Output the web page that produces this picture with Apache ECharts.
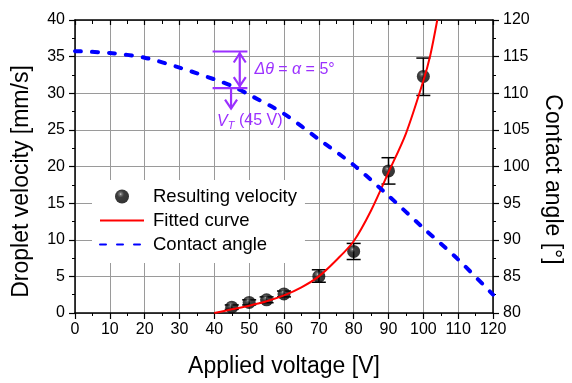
<!DOCTYPE html>
<html><head><meta charset="utf-8">
<script src="https://cdn.jsdelivr.net/npm/echarts@6/dist/echarts.min.js"></script>
<style>html,body{margin:0;padding:0;background:#fff}#c{width:572px;height:383px}</style>
</head><body><div id="c"></div>
<script>
// ---- data ----
const voltages   = [45, 50, 55, 60, 70, 80, 90, 100];
const velocity   = [0.8, 1.45, 1.8, 2.6, 5.0, 8.4, 19.4, 32.3];
const velLow     = [0.5, 1.1, 1.4, 2.2, 4.2, 7.3, 17.6, 29.7];
const velHigh    = [1.1, 1.8, 2.2, 3.0, 5.9, 9.5, 21.2, 34.8];
const fitVoltage  = [40, 45, 50, 55, 60, 65, 70, 75, 80, 85, 90, 95, 100, 102, 104];
const fitVelocity = [0, 0.5, 1.0, 1.6, 2.4, 3.5, 5.0, 7.2, 9.8, 14.0, 19.2, 24.5, 31.7, 35.2, 40];
const angleVoltage = [0, 10, 20, 30, 40, 45, 50, 60, 70, 80, 90, 100, 110, 120];
const contactAngle = [115.75, 115.5, 114.85, 113.5, 111.9, 111.0, 109.8, 107.2, 103.7, 100.2, 96.0, 91.6, 87.3, 82.5];
// annotation anchors (data units: voltage, contact angle)
const annBarX = [39.5, 49.5];
const annUpper = 115.7, annLower = 110.7;
const annArrowX = 47.3;
const vtX = 44.8, vtArrowEnd = 107.9;

const FONT = 'Arial, "Liberation Sans", sans-serif';
const PURPLE = '#9B30FF';
const GRIDC = '#9a9a9a';

const chart = echarts.init(document.getElementById('c'), null, {renderer: 'canvas'});

const sphere = {
  type: 'radial', x: 0.4, y: 0.33, r: 0.68,
  colorStops: [
    {offset: 0, color: '#d0d0d0'},
    {offset: 0.12, color: '#555'},
    {offset: 0.36, color: '#0c0c0c'},
    {offset: 1, color: '#000'}
  ]
};

const option = {
  animation: false,
  backgroundColor: '#fff',
  textStyle: {fontFamily: FONT},
  grid: {left: 75, right: 76, top: 20, bottom: 65},
  legend: {
    orient: 'vertical', left: 92, top: 180,
    backgroundColor: '#fff',
    padding: [7, 8, 9, 7],
    itemWidth: 44, itemHeight: 14, itemGap: 5,
    textStyle: {fontSize: 18.5, color: '#000', fontFamily: FONT, lineHeight: 18, padding: [0, 0, 0, 4]},
    data: [
      {name: 'Resulting velocity'},
      {name: 'Fitted curve', itemStyle: {opacity: 0}},
      {name: 'Contact angle', itemStyle: {opacity: 0}}
    ]
  },
  xAxis: [{
    type: 'value', min: 0, max: 120, interval: 10, position: 'bottom',
    name: 'Applied voltage [V]', nameLocation: 'middle', nameGap: 42,
    nameTextStyle: {fontSize: 23, color: '#000', fontFamily: FONT},
    axisLine: {show: true, onZero: false, lineStyle: {color: '#000', width: 1.5}},
    axisTick: {show: true, inside: false, length: 6, lineStyle: {color: '#000', width: 1.2}},
    minorTick: {show: true, splitNumber: 2, length: 3, lineStyle: {color: '#000', width: 1}},
    axisLabel: {fontSize: 16, color: '#000', margin: 9, fontFamily: FONT},
    splitLine: {show: true, lineStyle: {color: GRIDC, width: 1}}
  }, {
    type: 'value', min: 0, max: 120, interval: 10, position: 'top',
    axisLine: {show: true, onZero: false, lineStyle: {color: '#000', width: 1.5}},
    axisTick: {show: true, inside: true, length: 5, lineStyle: {color: '#000', width: 1.2}},
    minorTick: {show: true, splitNumber: 2, length: 4, lineStyle: {color: '#000', width: 1}},
    axisLabel: {show: false},
    splitLine: {show: false}
  }],
  yAxis: [{
    type: 'value', min: 0, max: 40, interval: 5, position: 'left',
    name: 'Droplet velocity [mm/s]', nameLocation: 'middle', nameGap: 42,
    nameTextStyle: {fontSize: 23, color: '#000', fontFamily: FONT, padding: [0, 30, 0, 0]},
    axisLine: {show: true, onZero: false, lineStyle: {color: '#000', width: 1.5}},
    axisTick: {show: true, inside: false, length: 6, lineStyle: {color: '#000', width: 1.2}},
    minorTick: {show: true, splitNumber: 2, length: 3, lineStyle: {color: '#000', width: 1}},
    axisLabel: {fontSize: 16, color: '#000', margin: 10, fontFamily: FONT},
    splitLine: {show: true, lineStyle: {color: GRIDC, width: 1}}
  }, {
    type: 'value', min: 80, max: 120, interval: 5, position: 'right',
    name: 'Contact angle [°]', nameLocation: 'middle', nameGap: 48, nameRotate: -90,
    nameTextStyle: {fontSize: 23, color: '#000', fontFamily: FONT, padding: [0, 0, 0, 26]},
    axisLine: {show: true, onZero: false, lineStyle: {color: '#000', width: 1.5}},
    axisTick: {show: true, inside: false, length: 6, lineStyle: {color: '#000', width: 1.2}},
    minorTick: {show: true, splitNumber: 2, length: 3, lineStyle: {color: '#000', width: 1}},
    axisLabel: {fontSize: 16, color: '#000', margin: 10, fontFamily: FONT},
    splitLine: {show: false}
  }],
  series: [{
    type: 'custom', name: 'err', xAxisIndex: 0, yAxisIndex: 0, z: 3,
    data: voltages.map((v, i) => [v, velLow[i], velHigh[i]]),
    encode: {x: 0, y: [1, 2]},
    renderItem: function (params, api) {
      const x = api.value(0);
      const lo = api.coord([x, api.value(1)]);
      const hi = api.coord([x, api.value(2)]);
      const hw = 7;
      const st = {stroke: '#000', lineWidth: 1.5};
      return {type: 'group', children: [
        {type: 'line', shape: {x1: lo[0], y1: lo[1], x2: hi[0], y2: hi[1]}, style: st},
        {type: 'line', shape: {x1: lo[0] - hw, y1: lo[1], x2: lo[0] + hw, y2: lo[1]}, style: st},
        {type: 'line', shape: {x1: hi[0] - hw, y1: hi[1], x2: hi[0] + hw, y2: hi[1]}, style: st}
      ]};
    }
  }, {
    type: 'scatter', name: 'Resulting velocity', xAxisIndex: 0, yAxisIndex: 0, z: 4,
    data: voltages.map((v, i) => [v, velocity[i]]),
    symbol: 'circle', symbolSize: 13,
    itemStyle: {color: sphere}
  }, {
    type: 'line', name: 'Fitted curve', xAxisIndex: 0, yAxisIndex: 0, z: 5,
    data: fitVoltage.map((v, i) => [v, fitVelocity[i]]),
    smooth: 0.3, symbol: 'none', clip: true,
    lineStyle: {color: '#ff0000', width: 2},
    itemStyle: {color: '#ff0000'}
  }, {
    type: 'line', name: 'Contact angle', xAxisIndex: 0, yAxisIndex: 1, z: 5,
    data: angleVoltage.map((v, i) => [v, contactAngle[i]]),
    smooth: 0.3, symbol: 'none',
    lineStyle: {color: '#0000ff', width: 4, type: [6, 11], cap: 'round'},
    itemStyle: {color: '#0000ff'}
  }]
};
chart.setOption(option);

// ---- annotation (positions from data coordinates) ----
function P(x, y) { return chart.convertToPixel({xAxisIndex: 0, yAxisIndex: 1}, [x, y]); }
const a1 = P(annBarX[0], annUpper), a2 = P(annBarX[1], annUpper);
const b1 = P(annBarX[0], annLower), b2 = P(annBarX[1], annLower);
const dTop = P(annArrowX, annUpper), dBot = P(annArrowX, annLower);
const vTop = P(vtX, annLower), vBot = P(vtX, vtArrowEnd);
const lineSt = {stroke: PURPLE, lineWidth: 2.2, fill: null};
const ch = 6, cl = 9;
const txt1 = P(51.5, 113.2);
const txt2 = P(40.8, 106.2);
chart.setOption({graphic: [
  {type: 'line', z: 10, shape: {x1: a1[0], y1: a1[1], x2: a2[0], y2: a2[1]}, style: lineSt},
  {type: 'line', z: 10, shape: {x1: b1[0], y1: b1[1], x2: b2[0], y2: b2[1]}, style: lineSt},
  {type: 'line', z: 10, shape: {x1: dTop[0], y1: dTop[1] + 1, x2: dBot[0], y2: dBot[1] - 1}, style: lineSt},
  {type: 'polyline', z: 10, shape: {points: [[dTop[0] - ch, dTop[1] + 2 + cl], [dTop[0], dTop[1] + 2], [dTop[0] + ch, dTop[1] + 2 + cl]]}, style: lineSt},
  {type: 'polyline', z: 10, shape: {points: [[dBot[0] - ch, dBot[1] - 2 - cl], [dBot[0], dBot[1] - 2], [dBot[0] + ch, dBot[1] - 2 - cl]]}, style: lineSt},
  {type: 'line', z: 10, shape: {x1: vTop[0], y1: vTop[1], x2: vBot[0], y2: vBot[1]}, style: lineSt},
  {type: 'polyline', z: 10, shape: {points: [[vBot[0] - ch, vBot[1] - cl], [vBot[0], vBot[1]], [vBot[0] + ch, vBot[1] - cl]]}, style: lineSt},
  {type: 'text', z: 10, x: txt1[0], y: txt1[1], style: {
    text: '{i|Δθ} = {i|α} = 5°', fill: PURPLE, font: '16px ' + FONT, verticalAlign: 'middle', align: 'left',
    rich: {i: {fontStyle: 'italic', fontSize: 16, fill: PURPLE, fontFamily: FONT}}
  }},
  {type: 'text', z: 10, x: txt2[0], y: txt2[1], style: {
    text: '{v|V}{s|T} (45 V)', fill: PURPLE, font: '16px ' + FONT, verticalAlign: 'middle', align: 'left',
    rich: {
      v: {fontStyle: 'italic', fontSize: 16, fill: PURPLE, fontFamily: FONT},
      s: {fontStyle: 'italic', fontSize: 11, fill: PURPLE, fontFamily: FONT, padding: [9, 0, 0, 0]}
    }
  }}
]});
</script>
</body></html>
